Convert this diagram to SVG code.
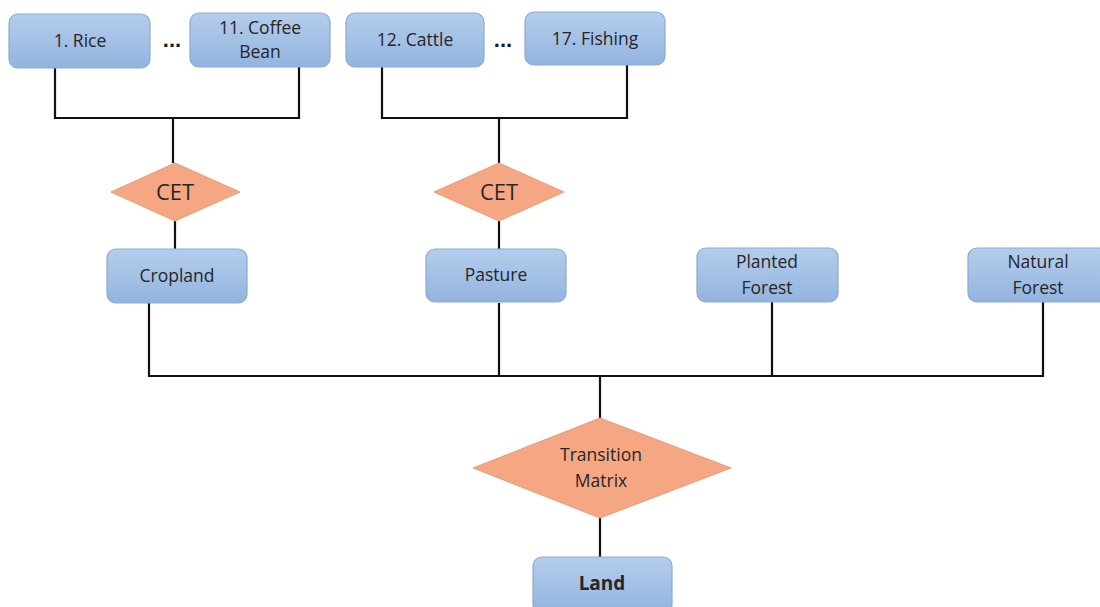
<svg xmlns="http://www.w3.org/2000/svg" width="1100" height="607" viewBox="0 0 1100 607">
<defs>
<linearGradient id="bg" x1="0" y1="0" x2="0" y2="1">
<stop offset="0" stop-color="#b5cdec"/>
<stop offset="1" stop-color="#93b4df"/>
</linearGradient>
</defs>
<style>
.box{fill:url(#bg);stroke:#8aa9d4;stroke-width:1.2}
.dia{fill:#f5a784;stroke:#eb9a78;stroke-width:1}
.t{font-family:"Open Sans","Liberation Sans",sans-serif;font-size:17.5px;fill:#262626;text-anchor:middle}
.big{font-size:22px}
.b{font-weight:bold;font-size:19px}
.dots{font-family:"Liberation Sans",sans-serif;font-size:22px;font-weight:bold;fill:#1a1a1a;text-anchor:middle}
.ln{stroke:#111;stroke-width:2.2;fill:none}
</style>
<rect width="1100" height="607" fill="#ffffff"/>
<g id="connectors">
<path class="ln" d="M55,68 V118 H299 V67 M173,118 V163"/>
<path class="ln" d="M382,67 V118 H627 V65 M499,118 V163"/>
<path class="ln" d="M175,221 V249 M499,221 V249"/>
<path class="ln" d="M149,303 V376 H1043 V302 M499,303 V376 M772,302 V376 M600,376 V418"/>
<path class="ln" d="M600,518 V557"/>
</g>
<g id="rice"><rect class="box" x="9" y="14" width="141" height="54" rx="9"/><text class="t" x="80" y="47">1. Rice</text></g>
<g id="dots1"><text class="dots" x="172" y="47">...</text></g>
<g id="coffee"><rect class="box" x="190" y="13" width="140" height="54" rx="9"/><text class="t" x="260" y="34">11. Coffee</text><text class="t" x="260" y="58">Bean</text></g>
<g id="cattle"><rect class="box" x="346" y="13" width="138" height="54" rx="9"/><text class="t" x="415" y="46">12. Cattle</text></g>
<g id="dots2"><text class="dots" x="503" y="47">...</text></g>
<g id="fishing"><rect class="box" x="525" y="12" width="140" height="53" rx="9"/><text class="t" x="595" y="45">17. Fishing</text></g>
<g id="cet1"><polygon class="dia" points="175,163 240,192 175,221 111,192"/><text class="t big" x="175" y="200">CET</text></g>
<g id="cet2"><polygon class="dia" points="499,163 564,192 499,221 434,192"/><text class="t big" x="499" y="200">CET</text></g>
<g id="cropland"><rect class="box" x="107" y="249" width="140" height="54" rx="9"/><text class="t" x="177" y="282">Cropland</text></g>
<g id="pasture"><rect class="box" x="426" y="249" width="140" height="53" rx="9"/><text class="t" x="496" y="281">Pasture</text></g>
<g id="planted"><rect class="box" x="697" y="248" width="141" height="54" rx="9"/><text class="t" x="767" y="268">Planted</text><text class="t" x="767" y="294">Forest</text></g>
<g id="natural"><rect class="box" x="968" y="248" width="140" height="54" rx="9"/><text class="t" x="1038" y="268">Natural</text><text class="t" x="1038" y="294">Forest</text></g>
<g id="transition"><polygon class="dia" points="600,418 731,468 600,518 473,468"/><text class="t" x="601" y="461">Transition</text><text class="t" x="601" y="487">Matrix</text></g>
<g id="land"><rect class="box" x="533" y="557" width="139" height="56" rx="9"/><text class="t b" x="602" y="590">Land</text></g>
</svg>
